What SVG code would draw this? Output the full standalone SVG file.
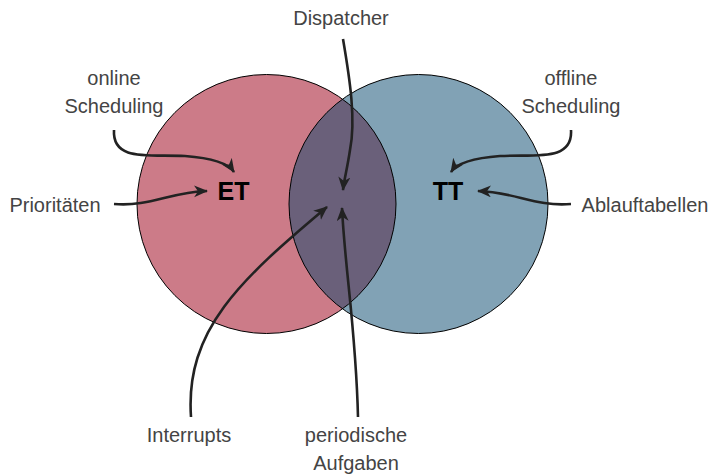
<svg xmlns="http://www.w3.org/2000/svg" width="714" height="476" viewBox="0 0 714 476">
<style>
.lbl{font-family:"Liberation Sans",Arial,sans-serif;font-size:20px;fill:#444;text-anchor:middle}
.big{font-family:"Liberation Sans",Arial,sans-serif;font-size:25px;font-weight:bold;fill:#000;text-anchor:middle}
.edge{fill:none;stroke:#222;stroke-width:2.6;marker-end:url(#ah)}
.ring{fill:none;stroke:#000;stroke-width:1}
</style>
<defs>
<marker id="ah" markerUnits="userSpaceOnUse" markerWidth="16" markerHeight="14" refX="13" refY="6" orient="auto">
<path d="M0,0 L14,6 L0,12 L4,6 Z" fill="#222"/>
</marker>
<clipPath id="clipL"><circle cx="266.5" cy="204" r="129.5"/></clipPath>
</defs>
<g id="circle-ET">
<circle cx="266.5" cy="204" r="129.5" fill="#CC7B88"/>
</g>
<g id="circle-TT">
<circle cx="418.5" cy="204" r="129.5" fill="#81A2B5"/>
</g>
<g id="intersection">
<circle cx="418.5" cy="204" r="129.5" fill="#6A607A" clip-path="url(#clipL)"/>
<circle cx="266.5" cy="204" r="129.5" class="ring"/>
<circle cx="418.5" cy="204" r="129.5" class="ring"/>
</g>
<g id="ET"><text class="big" x="233.5" y="200">ET</text></g>
<g id="TT"><text class="big" x="448" y="200">TT</text></g>
<g id="dispatcher"><text class="lbl" x="341" y="25">Dispatcher</text></g>
<g id="online"><text class="lbl" x="114" y="85">online</text><text class="lbl" x="114" y="113">Scheduling</text></g>
<g id="offline"><text class="lbl" x="571" y="85">offline</text><text class="lbl" x="571" y="113">Scheduling</text></g>
<g id="prioritaeten"><text class="lbl" x="55" y="212">Prioritäten</text></g>
<g id="ablauftabellen"><text class="lbl" x="645" y="212">Ablauftabellen</text></g>
<g id="interrupts"><text class="lbl" x="189" y="442">Interrupts</text></g>
<g id="periodische"><text class="lbl" x="356" y="442">periodische</text><text class="lbl" x="356" y="470">Aufgaben</text></g>
<g id="connectors">
<path class="edge" d="M114,130 C112,162 150,154 185,156 C212,158 228,163 234,172"/>
<path class="edge" d="M114,204 C150,207 170,192 207,191"/>
<path class="edge" d="M571,130 C573,162 535,154 500,156 C473,158 457,163 451,172"/>
<path class="edge" d="M571,204 C535,207 515,192 478,191"/>
<path class="edge" d="M343,39 C350,80 356,120 350,150 C347,170 344,180 343,190"/>
<path class="edge" d="M191,417 C185,330 240,280 327,207"/>
<path class="edge" d="M358,417 C356,330 345,270 342,208"/>
</g>
</svg>
